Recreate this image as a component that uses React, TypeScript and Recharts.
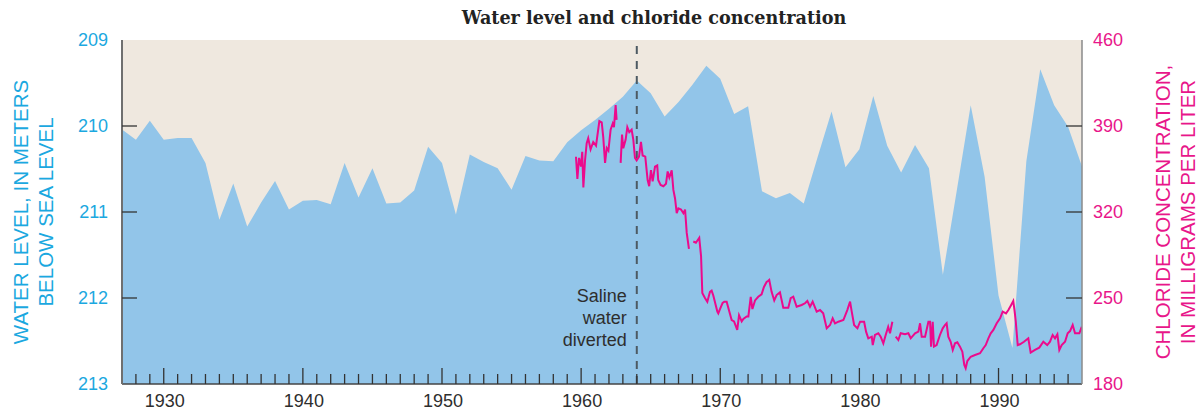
import React from "react";
import {
  ComposedChart,
  Area,
  Line,
  XAxis,
  YAxis,
  CartesianGrid,
  ReferenceLine,
} from "recharts";

// ---- Water level (meters below sea level), annual ----
const waterYears = [
  1927, 1928, 1929, 1930, 1931, 1932, 1933, 1934, 1935, 1936, 1937, 1938, 1939, 1940,
  1941, 1942, 1943, 1944, 1945, 1946, 1947, 1948, 1949, 1950, 1951, 1952, 1953, 1954,
  1955, 1956, 1957, 1958, 1959, 1960, 1961, 1962, 1963, 1964, 1965, 1966, 1967, 1968,
  1969, 1970, 1971, 1972, 1973, 1974, 1975, 1976, 1977, 1978, 1979, 1980, 1981, 1982,
  1983, 1984, 1985, 1986, 1987, 1988, 1989, 1990, 1991, 1992, 1993, 1994, 1995, 1996,
];
const waterLevels = [
  210.04, 210.16, 209.94, 210.16, 210.14, 210.14, 210.43, 211.09, 210.67, 211.17, 210.89, 210.64, 210.97, 210.87,
  210.86, 210.91, 210.43, 210.83, 210.49, 210.9, 210.89, 210.75, 210.24, 210.43, 211.03, 210.33, 210.42, 210.49,
  210.74, 210.35, 210.4, 210.41, 210.19, 210.05, 209.93, 209.8, 209.66, 209.47, 209.62, 209.89, 209.72, 209.52,
  209.3, 209.45, 209.86, 209.77, 210.76, 210.84, 210.78, 210.9, 210.36, 209.83, 210.48, 210.27, 209.65, 210.23,
  210.54, 210.22, 210.49, 211.73, 210.75, 209.76, 210.59, 211.97, 212.58, 210.41, 209.34, 209.76, 210.01, 210.47,
];

// ---- Chloride concentration (mg/L); null marks a gap in the record ----
const chlorideYears = [
  1959.63, 1959.73, 1959.85, 1959.99, 1960.08, 1960.16, 1960.28, 1960.4, 1960.51, 1960.68, 1960.87, 1961.07,
  1961.31, 1961.48, 1961.59, 1961.72, 1961.84, 1961.96, 1962.12, 1962.27, 1962.36, 1962.48, 1962.55, 1962.7,
  1962.84, 1962.94, 1963.03, 1963.2, 1963.32, 1963.46, 1963.63, 1963.75, 1963.87, 1963.99, 1964.16, 1964.3,
  1964.42, 1964.61, 1964.78, 1964.89, 1965.02, 1965.14, 1965.31, 1965.47, 1965.54, 1965.71, 1965.91, 1966.1,
  1966.22, 1966.34, 1966.51, 1966.63, 1966.75, 1966.87, 1966.99, 1967.18, 1967.35, 1967.47, 1967.59, 1967.75,
  1967.9,
  1968.06, 1968.25, 1968.49, 1968.62, 1968.71, 1968.9, 1969.07, 1969.26, 1969.38, 1969.5, 1969.79, 1969.86,
  1969.98, 1970.17, 1970.29, 1970.46, 1970.7, 1970.82, 1970.99, 1971.22, 1971.35, 1971.54, 1971.66, 1971.9,
  1972.02, 1972.19, 1972.31, 1972.5, 1972.73, 1972.97, 1973.14, 1973.33, 1973.45, 1973.52, 1973.69, 1973.88,
  1974.05, 1974.29, 1974.53, 1974.89, 1975.06, 1975.25, 1975.49, 1975.85, 1976.09, 1976.26, 1976.45, 1976.64,
  1976.93, 1977.17, 1977.4, 1977.65, 1977.89, 1978.08, 1978.25, 1978.49, 1978.85, 1979.13, 1979.33, 1979.45,
  1979.62, 1979.86, 1980.05, 1980.34, 1980.48, 1980.64, 1980.89, 1980.96, 1981.12, 1981.36, 1981.53, 1981.72,
  1981.89, 1982.07, 1982.2, 1982.37, 1982.5,
  1982.61, 1982.8, 1982.97, 1983.28, 1983.52, 1983.69, 1984.0, 1984.24, 1984.36, 1984.48, 1984.72, 1984.96,
  1985.08, 1985.15, 1985.27, 1985.36, 1985.55, 1985.79, 1985.99, 1986.15, 1986.27, 1986.39, 1986.56, 1986.71,
  1986.87, 1987.04, 1987.23, 1987.4, 1987.54, 1987.64, 1987.76, 1988.0, 1988.31, 1988.67, 1988.91, 1989.08,
  1989.27, 1989.44, 1989.63, 1989.87, 1990.11, 1990.3, 1990.54, 1990.71, 1990.88, 1991.06, 1991.16, 1991.24,
  1991.38, 1991.54, 1991.83, 1992.14, 1992.31, 1992.62, 1992.93, 1993.22, 1993.5, 1993.7, 1993.89, 1994.06,
  1994.23, 1994.37, 1994.54, 1994.78, 1994.97, 1995.14, 1995.33, 1995.5, 1995.81, 1995.98,
];
const chlorideValues: (number | null)[] = [
  365, 347, 364, 357, 369, 340, 362, 376, 380, 371, 377, 374,
  394, 393, 381, 360, 372, 370, 387, 392, 389, 407, 395, null,
  360, 383, 372, 379, 389, 385, 387, 379, 364, 362, 365, 377,
  366, 365, 346, 341, 354, 345, 357, 358, 346, 342, 341, 343,
  353, 348, 354, 338, 331, 319, 323, 322, 319, 322, 303, 290,
  null,
  296, 295, 299, 284, 254, 250, 247, 255, 256, 252, 239, 237.5,
  241, 246, 247, 247, 237, 232, 231, 224, 236, 231, 233, 235,
  235, 251, 241, 248, 251, 253, 259, 263, 264, 264.7, 255, 248,
  252.4, 254.6, 242.1, 242.1, 249.8, 251.1, 242.9, 244.3, 245.7, 247.6, 242.9, 247,
  238.9, 240.2, 237.5, 225.3, 228, 233.5, 229.4, 230.7, 232.1, 240.2, 247, 238.9,
  228, 225.3, 230.7, 230.7, 222.6, 217.2, 218.5, 211.7, 219.9, 221.3, 218.5, 213.1,
  219.9, 226.6, 221.3, 230.7, null,
  218.5, 215.8, 221.3, 220.5, 221.3, 217.2, 221.3, 222.6, 229.4, 218.5, 218.5, 230.7,
  230.7, 210.4, 230.7, 210.4, 211.7, 219.9, 225.3, 228, 229.4, 218.5, 214.4, 207.7,
  213.1, 213.9, 210.4, 206.3, 195.5, 192.8, 198.7, 202.2, 203.6, 205, 209.1, 211.7,
  217.2, 221.3, 224, 229.4, 233.5, 238.9, 237.5, 240.2, 243.7, 247.6, 238.9, 230.7,
  211.7, 212.3, 214.4, 217.2, 205.5, 207.7, 209.6, 214.4, 211.7, 214.4, 219.9, 217.2,
  220.5, 207.7, 211.7, 214.4, 221.3, 223.1, 228, 221.3, 221.3, 226.6,
];

const yearTicks = [
  1928, 1929, 1930, 1931, 1932, 1933, 1934, 1935, 1936, 1937, 1938, 1939, 1940, 1941, 1942, 1943,
  1944, 1945, 1946, 1947, 1948, 1949, 1950, 1951, 1952, 1953, 1954, 1955, 1956, 1957, 1958, 1959,
  1960, 1961, 1962, 1963, 1964, 1965, 1966, 1967, 1968, 1969, 1970, 1971, 1972, 1973, 1974, 1975,
  1976, 1977, 1978, 1979, 1980, 1981, 1982, 1983, 1984, 1985, 1986, 1987, 1988, 1989, 1990, 1991,
  1992, 1993, 1994, 1995,
];
const levelTicks = [209, 210, 211, 212, 213];
const chlorideTicks = [180, 250, 320, 390, 460];
const diversionYear = 1964;

const waterData = waterYears.map((year, i) => ({ year, level: waterLevels[i] }));
const chlorideData = chlorideYears.map((year, i) => ({ year, cl: chlorideValues[i] }));

const SANS = "'Liberation Sans', Arial, Helvetica, sans-serif";
const CYAN = "#1BA8E0";
const MAGENTA = "#E8168A";
const LINE_MAGENTA = "#EC0A8C";
const DARK = "#2e2e2e";

const BottomTick = (props: any) => {
  const { x, y, payload } = props;
  const major = payload.value % 10 === 0;
  return (
    <g>
      <line x1={x} x2={x} y1={y} y2={y - (major ? 16 : 10)} stroke="#333" strokeWidth={1.3} />
      {major && (
        <text x={x + 1} y={y + 23} textAnchor="middle" fill={DARK} fontSize={18} fontFamily={SANS}>
          {payload.value}
        </text>
      )}
    </g>
  );
};

const TopTick = (props: any) => {
  const { x, y, payload } = props;
  const major = payload.value % 10 === 0;
  return (
    <line x1={x} x2={x} y1={y} y2={y + (major ? 15 : 11)} stroke="#444" strokeWidth={1.3} />
  );
};

const LeftTick = (props: any) => {
  const { x, y, payload } = props;
  const v = payload.value;
  return (
    <g>
      {v > 209 && v < 213 && <line x1={x} x2={x + 15} y1={y} y2={y} stroke="#333" strokeWidth={1.3} />}
      <text x={x - 14} y={y} dy="0.36em" textAnchor="end" fill={CYAN} fontSize={18} fontFamily={SANS}>
        {v}
      </text>
    </g>
  );
};

const RightTick = (props: any) => {
  const { x, y, payload } = props;
  const v = payload.value;
  return (
    <g>
      {v > 180 && v < 460 && <line x1={x} x2={x - 16} y1={y} y2={y} stroke="#333" strokeWidth={1.3} />}
      <text x={x + 11} y={y} dy="0.36em" textAnchor="start" fill={MAGENTA} fontSize={18} fontFamily={SANS}>
        {v}
      </text>
    </g>
  );
};

const DiversionLabel = (props: any) => {
  const { viewBox } = props;
  const x = viewBox.x - 10;
  const bottom = viewBox.y + viewBox.height;
  const style = { fontSize: 18, fontFamily: SANS, fill: DARK };
  return (
    <g>
      <text x={x} y={bottom - 82} textAnchor="end" {...style}>Saline</text>
      <text x={x} y={bottom - 60} textAnchor="end" {...style}>water</text>
      <text x={x} y={bottom - 38} textAnchor="end" {...style}>diverted</text>
    </g>
  );
};

export default function App() {
  return (
    <div style={{ position: "absolute", left: 0, top: 0, width: 1202, height: 411, background: "#fff" }}>
      <ComposedChart width={1202} height={411} margin={{ top: 40, right: 0, bottom: 0, left: 0 }}>
        <CartesianGrid horizontal={false} vertical={false} fill="#EFE8DF" stroke="none" />
        <XAxis
          type="number"
          dataKey="year"
          domain={[1927, 1996]}
          allowDataOverflow
          ticks={yearTicks}
          interval={0}
          height={27}
          tickSize={0}
          tickMargin={0}
          tickLine={false}
          tick={<BottomTick />}
          axisLine={{ stroke: "#444", strokeWidth: 1.5 }}
        />
        <XAxis
          xAxisId="top"
          orientation="top"
          type="number"
          dataKey="year"
          domain={[1927, 1996]}
          allowDataOverflow
          ticks={yearTicks}
          interval={0}
          height={0}
          tickSize={0}
          tickMargin={0}
          tickLine={false}
          tick={<TopTick />}
          axisLine={{ stroke: "#9a9a9a", strokeWidth: 1.5 }}
        />
        <YAxis
          type="number"
          domain={[209, 213]}
          reversed
          allowDataOverflow
          ticks={levelTicks}
          interval={0}
          width={122}
          tickSize={0}
          tickMargin={0}
          tickLine={false}
          tick={<LeftTick />}
          axisLine={{ stroke: "#6f6f6f", strokeWidth: 2 }}
        />
        <YAxis
          yAxisId="right"
          orientation="right"
          type="number"
          domain={[180, 460]}
          allowDataOverflow
          ticks={chlorideTicks}
          interval={0}
          width={120}
          tickSize={0}
          tickMargin={0}
          tickLine={false}
          tick={<RightTick />}
          axisLine={{ stroke: "#8a8a8a", strokeWidth: 1.5 }}
        />
        <Area
          data={waterData}
          dataKey="level"
          type="linear"
          baseValue={213}
          fill="#92C5E9"
          fillOpacity={1}
          stroke="none"
          isAnimationActive={false}
        />
        <ReferenceLine
          x={diversionYear}
          stroke="#4D5A63"
          strokeWidth={2}
          strokeDasharray="8 7"
          label={<DiversionLabel />}
        />
        <Line
          data={chlorideData}
          dataKey="cl"
          yAxisId="right"
          type="linear"
          stroke={LINE_MAGENTA}
          strokeWidth={2}
          dot={false}
          activeDot={false}
          connectNulls={false}
          isAnimationActive={false}
        />
      </ComposedChart>
      <svg
        width={1202}
        height={411}
        style={{ position: "absolute", left: 0, top: 0, pointerEvents: "none" }}
      >
        <text
          x={654}
          y={24}
          textAnchor="middle"
          fontSize={17.6}
          fontWeight="bold"
          fontFamily="'DejaVu Serif', 'Liberation Serif', serif"
          fill="#222"
        >
          Water level and chloride concentration
        </text>
        <g transform="translate(21,212) rotate(-90)" fill={CYAN} fontSize={20.5} fontFamily={SANS}>
          <text x={0} y={0} dy="0.36em" textAnchor="middle">WATER LEVEL, IN METERS</text>
          <text x={0} y={25} dy="0.36em" textAnchor="middle">BELOW SEA LEVEL</text>
        </g>
        <g transform="translate(1163,212) rotate(-90)" fill={MAGENTA} fontSize={20.5} fontFamily={SANS}>
          <text x={0} y={0} dy="0.36em" textAnchor="middle">CHLORIDE CONCENTRATION,</text>
          <text x={0} y={25} dy="0.36em" textAnchor="middle">IN MILLIGRAMS PER LITER</text>
        </g>
      </svg>
    </div>
  );
}
